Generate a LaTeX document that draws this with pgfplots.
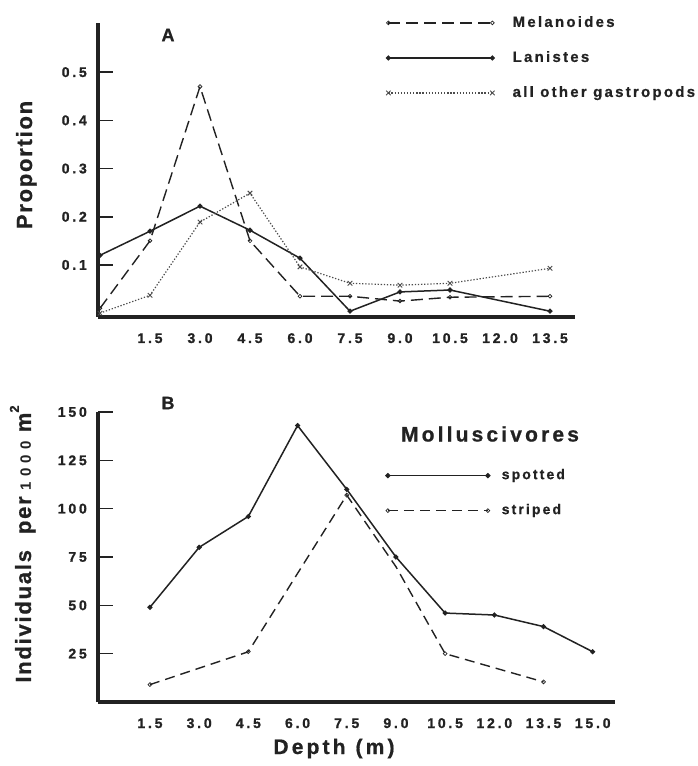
\documentclass[border=0pt]{standalone}
\usepackage{fontspec}
\setmainfont[LetterSpace=15, BoldFeatures={FakeBold=0.8}]{Liberation Sans}
\newfontfamily\labfont[LetterSpace=8, BoldFeatures={FakeBold=0.8}]{Liberation Sans}
\newfontfamily\tickfont[LetterSpace=20, BoldFeatures={FakeBold=1.2}]{Liberation Sans}
\newfontfamily\thoufont[LetterSpace=35]{Liberation Sans}
\usepackage{pgfplots}
\pgfplotsset{compat=1.18}
\definecolor{ink}{HTML}{222222}
\pgfplotsset{
  myaxis/.style={
    scale only axis,
    axis x line=bottom, axis y line=left,
    axis line style={-, line width=3.2pt, ink},
    tick align=inside,
    major tick length=15pt,
    xtick style={draw=none},
    ytick style={line width=1.6pt, ink},
    ticklabel style={font=\tickfont\bfseries\fontsize{14}{14}\selectfont, text=ink},
    xticklabel style={anchor=base, yshift=-26pt},
    yticklabel style={anchor=east, inner sep=0pt, xshift=-11pt},
    clip=false,
    legend cell align=left,
  },
  mel/.style={ink, line width=1.4pt, dash pattern=on 12pt off 6pt, mark=o, mark size=1.9pt, mark options={solid, line width=0.7pt}},
  lan/.style={ink, line width=1.5pt, solid, mark=*, mark size=1.7pt},
  oth/.style={black!70, line width=1.2pt, dash pattern=on 1.3pt off 1.8pt, mark=x, mark size=3.2pt, mark options={solid, line width=0.9pt}},
}
\begin{document}
\begin{tikzpicture}
\useasboundingbox (0,0) rectangle (697pt,766pt);
% ---------------- Panel A ----------------
\begin{axis}[myaxis,
  at={(98pt,449pt)}, anchor=south west,
  width=477pt, height=294pt,
  xmin=-0.06, xmax=14.25, ymin=-0.008, ymax=0.602,
  xtick={1.5,3,4.5,6,7.5,9,10.5,12,13.5},
  xticklabels={1.5,3.0,4.5,6.0,7.5,9.0,10.5,12.0,13.5},
  ytick={0.1,0.2,0.3,0.4,0.5},
  yticklabels={0.1,0.2,0.3,0.4,0.5},
  legend image code/.code={\draw[#1] plot coordinates {(0pt,0pt) (104pt,0pt)};},
  legend style={at={(axis description cs:0.604,1.024)}, anchor=north west,
    draw=none, fill=none, inner sep=0pt, outer sep=0pt, row sep=21pt, column sep=18pt,
    nodes={inner sep=0pt, text height=11pt, text depth=3pt, font=\bfseries\fontsize{15}{15}\selectfont, text=ink}},
]
\addplot[mel] coordinates {(0,0.01)(1.5,0.15)(3,0.47)(4.5,0.15)(6,0.035)(7.5,0.035)(9,0.025)(10.5,0.033)(13.5,0.035)};
\addlegendentry{Melanoides}
\addplot[lan] coordinates {(0,0.12)(1.5,0.17)(3,0.222)(4.5,0.172)(6,0.114)(7.5,0.004)(9,0.044)(10.5,0.048)(13.5,0.004)};
\addlegendentry{Lanistes}
\addplot[oth] coordinates {(0,0)(1.5,0.037)(3,0.189)(4.5,0.249)(6,0.096)(7.5,0.062)(9,0.058)(10.5,0.062)(13.5,0.093)};
\addlegendentry{all other gastropods}
\end{axis}
% ---------------- Panel B ----------------
\begin{axis}[myaxis,
  at={(98pt,64pt)}, anchor=south west,
  width=517pt, height=290pt,
  xmin=-0.085, xmax=15.68, ymin=0, ymax=150,
  xtick={1.5,3,4.5,6,7.5,9,10.5,12,13.5,15},
  xticklabels={1.5,3.0,4.5,6.0,7.5,9.0,10.5,12.0,13.5,15.0},
  ytick={25,50,75,100,125,150},
  yticklabels={25,50,75,100,125,150},
  legend image code/.code={\draw[#1] plot coordinates {(0pt,0pt) (100pt,0pt)};},
  legend style={at={(axis description cs:0.557,0.803)}, anchor=north west,
    draw=none, fill=none, inner sep=0pt, outer sep=0pt, row sep=22pt, column sep=12pt,
    nodes={inner sep=0pt, text height=10pt, text depth=3pt, font=\bfseries\fontsize{14}{14}\selectfont, text=ink}},
]
\addplot[lan] coordinates {(1.5,49)(3,80)(4.5,96)(6,143)(7.5,110)(9,75)(10.5,46)(12,45)(13.5,39)(15,26)};
\addlegendentry{spotted}
\addplot[mel, dash pattern=on 10pt off 6pt, mark indices={1,2,3,5,6}] coordinates {(1.5,9)(4.5,26)(7.5,107)(9,70)(10.5,25)(13.5,10.4)};
\addlegendentry{striped}
\end{axis}
% ---------------- texts ----------------
\node[font=\bfseries\fontsize{18}{18}\selectfont, text=ink] at (168pt,731pt) {A};
\node[font=\bfseries\fontsize{18}{18}\selectfont, text=ink] at (168pt,363pt) {B};
\node[font=\bfseries\fontsize{21}{21}\selectfont, text=ink] at (490pt,332pt) {Molluscivores};
\node[rotate=90, anchor=base, font=\labfont\bfseries\fontsize{22}{22}\selectfont, text=ink] at (32pt,601pt) {Proportion};
\node[rotate=90, anchor=base, font=\labfont\bfseries\fontsize{22}{22}\selectfont, text=ink] at (31pt,222pt)
  {Individuals\hspace{16pt}per\hspace{6pt}{\thoufont\fontsize{15}{15}\selectfont 1000}\hspace{9pt}m\raisebox{0.55em}{\fontsize{13}{13}\selectfont 2}};
\node[anchor=base, font=\bfseries\fontsize{21}{21}\selectfont, text=ink] at (334pt,12pt) {Depth\hspace{10pt}(m)};
\end{tikzpicture}
\end{document}
